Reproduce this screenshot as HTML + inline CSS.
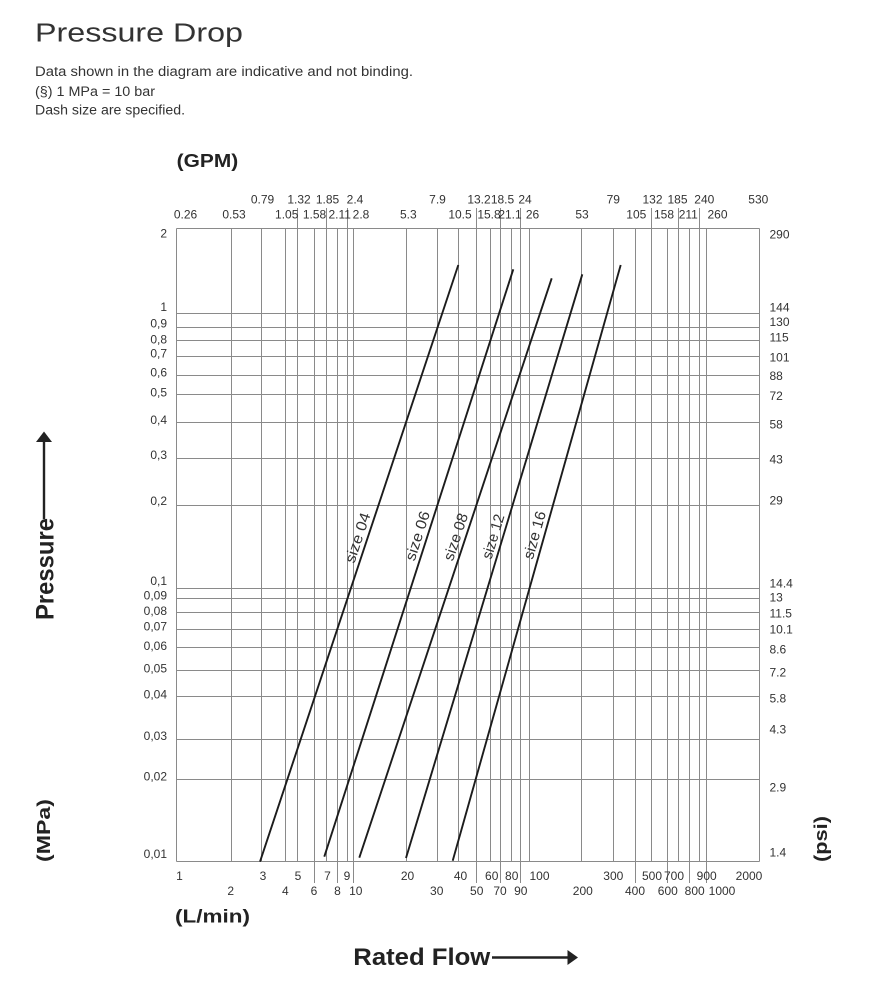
<!DOCTYPE html>
<html>
<head>
<meta charset="utf-8">
<style>
html,body{margin:0;padding:0;background:#fff;}
svg{display:block;}
text{font-family:"Liberation Sans",sans-serif;fill:#333;}
.n{font-size:12px;}
.c{text-anchor:middle;}
.r{text-anchor:end;}
.b{font-weight:bold;fill:#222;}
</style>
</head>
<body>
<svg width="881" height="991" viewBox="0 0 881 991" xmlns="http://www.w3.org/2000/svg">
<rect width="881" height="991" fill="#fff"/>

<!-- Title & notes -->
<text x="35" y="41.7" font-size="25.5" textLength="208" lengthAdjust="spacingAndGlyphs">Pressure Drop</text>
<text x="35" y="76" font-size="13.5" textLength="378" lengthAdjust="spacingAndGlyphs">Data shown in the diagram are indicative and not binding.</text>
<text x="35" y="96" font-size="13.5" textLength="120" lengthAdjust="spacingAndGlyphs">(§) 1 MPa = 10 bar</text>
<text x="35" y="114.5" font-size="13.5" textLength="150" lengthAdjust="spacingAndGlyphs">Dash size are specified.</text>

<text class="b" x="176.7" y="167" font-size="18" textLength="61.5" lengthAdjust="spacingAndGlyphs">(GPM)</text>

<!-- Grid -->
<g stroke="#8a8a8a" stroke-width="1" fill="none">
  <!-- horizontal -->
  <line x1="176.5" y1="228.5" x2="759.5" y2="228.5"/>
  <line x1="176.5" y1="313.5" x2="759.5" y2="313.5"/>
  <line x1="176.5" y1="327.5" x2="759.5" y2="327.5"/>
  <line x1="176.5" y1="340.5" x2="759.5" y2="340.5"/>
  <line x1="176.5" y1="356.5" x2="759.5" y2="356.5"/>
  <line x1="176.5" y1="375.5" x2="759.5" y2="375.5"/>
  <line x1="176.5" y1="394.5" x2="759.5" y2="394.5"/>
  <line x1="176.5" y1="422.5" x2="759.5" y2="422.5"/>
  <line x1="176.5" y1="458.5" x2="759.5" y2="458.5"/>
  <line x1="176.5" y1="505.5" x2="759.5" y2="505.5"/>
  <line x1="176.5" y1="588.5" x2="759.5" y2="588.5"/>
  <line x1="176.5" y1="598.5" x2="759.5" y2="598.5"/>
  <line x1="176.5" y1="612.5" x2="759.5" y2="612.5"/>
  <line x1="176.5" y1="629.5" x2="759.5" y2="629.5"/>
  <line x1="176.5" y1="647.5" x2="759.5" y2="647.5"/>
  <line x1="176.5" y1="670.5" x2="759.5" y2="670.5"/>
  <line x1="176.5" y1="696.5" x2="759.5" y2="696.5"/>
  <line x1="176.5" y1="739.5" x2="759.5" y2="739.5"/>
  <line x1="176.5" y1="779.5" x2="759.5" y2="779.5"/>
  <line x1="176.5" y1="861.5" x2="759.5" y2="861.5"/>
  <!-- vertical: plain -->
  <line x1="176.5" y1="228.5" x2="176.5" y2="861.5"/>
  <line x1="231.5" y1="228.5" x2="231.5" y2="861.5"/>
  <line x1="261.5" y1="228.5" x2="261.5" y2="861.5"/>
  <line x1="285.5" y1="228.5" x2="285.5" y2="861.5"/>
  <line x1="406.5" y1="228.5" x2="406.5" y2="861.5"/>
  <line x1="437.5" y1="228.5" x2="437.5" y2="861.5"/>
  <line x1="458.5" y1="228.5" x2="458.5" y2="861.5"/>
  <line x1="490.5" y1="228.5" x2="490.5" y2="861.5"/>
  <line x1="511.5" y1="228.5" x2="511.5" y2="861.5"/>
  <line x1="529.5" y1="228.5" x2="529.5" y2="861.5"/>
  <line x1="581.5" y1="228.5" x2="581.5" y2="861.5"/>
  <line x1="613.5" y1="228.5" x2="613.5" y2="861.5"/>
  <line x1="759.5" y1="228.5" x2="759.5" y2="861.5"/>
  <!-- vertical: extend up -->
  <line x1="297.5" y1="208" x2="297.5" y2="861.5"/>
  <line x1="326.5" y1="208" x2="326.5" y2="861.5"/>
  <line x1="347.5" y1="208" x2="347.5" y2="861.5"/>
  <line x1="651.5" y1="208" x2="651.5" y2="861.5"/>
  <line x1="678.5" y1="208" x2="678.5" y2="861.5"/>
  <line x1="699.5" y1="208" x2="699.5" y2="861.5"/>
  <!-- vertical: extend both -->
  <line x1="476.5" y1="208" x2="476.5" y2="883"/>
  <line x1="500.5" y1="208" x2="500.5" y2="883"/>
  <line x1="520.5" y1="208" x2="520.5" y2="883"/>
  <!-- vertical: extend down -->
  <line x1="314.5" y1="228.5" x2="314.5" y2="883"/>
  <line x1="337.5" y1="228.5" x2="337.5" y2="883"/>
  <line x1="353.5" y1="228.5" x2="353.5" y2="883"/>
  <line x1="635.5" y1="228.5" x2="635.5" y2="883"/>
  <line x1="667.5" y1="228.5" x2="667.5" y2="883"/>
  <line x1="689.5" y1="228.5" x2="689.5" y2="883"/>
  <line x1="706.5" y1="228.5" x2="706.5" y2="883"/>
</g>

<!-- Curves -->
<g stroke="#1c1c1c" stroke-width="1.9" fill="none" stroke-linecap="butt">
  <line x1="260" y1="861.7" x2="458.3" y2="265"/>
  <line x1="324.3" y1="856.7" x2="513.3" y2="269.3"/>
  <line x1="359.3" y1="857.7" x2="551.7" y2="278.3"/>
  <line x1="406" y1="858" x2="582.3" y2="274.3"/>
  <line x1="452.7" y1="860.7" x2="620.7" y2="265"/>
</g>

<!-- Size labels -->
<g font-size="15">
  <text transform="translate(354.2,564) rotate(-71.62)" textLength="52" lengthAdjust="spacingAndGlyphs">size 04</text>
  <text transform="translate(414.5,561.7) rotate(-72.16)" textLength="51" lengthAdjust="spacingAndGlyphs">size 06</text>
  <text transform="translate(452.8,561.7) rotate(-71.63)" textLength="49" lengthAdjust="spacingAndGlyphs">size 08</text>
  <text transform="translate(491.3,560) rotate(-73.19)" textLength="46" lengthAdjust="spacingAndGlyphs">size 12</text>
  <text transform="translate(532.8,560) rotate(-74.26)" textLength="49" lengthAdjust="spacingAndGlyphs">size 16</text>
</g>

<!-- Top GPM labels row 1 -->
<g class="n c">
  <text x="262.5" y="203.5">0.79</text>
  <text x="299" y="203.5">1.32</text>
  <text x="327.5" y="203.5">1.85</text>
  <text x="355" y="203.5">2.4</text>
  <text x="437.5" y="203.5">7.9</text>
  <text x="479" y="203.5">13.2</text>
  <text x="502.5" y="203.5">18.5</text>
  <text x="525" y="203.5">24</text>
  <text x="613.3" y="203.5">79</text>
  <text x="652.5" y="203.5">132</text>
  <text x="677.5" y="203.5">185</text>
  <text x="704.3" y="203.5">240</text>
  <text x="758.3" y="203.5">530</text>
</g>
<!-- Top GPM labels row 2 -->
<g class="n c">
  <text x="185.5" y="218.3">0.26</text>
  <text x="234" y="218.3">0.53</text>
  <text x="286.7" y="218.3">1.05</text>
  <text x="314.5" y="218.3">1.58</text>
  <text x="339.7" y="218.3">2.11</text>
  <text x="361" y="218.3">2.8</text>
  <text x="408.3" y="218.3">5.3</text>
  <text x="460" y="218.3">10.5</text>
  <text x="489" y="218.3">15.8</text>
  <text x="510" y="218.3">21.1</text>
  <text x="532.5" y="218.3">26</text>
  <text x="582" y="218.3">53</text>
  <text x="636.3" y="218.3">105</text>
  <text x="664" y="218.3">158</text>
  <text x="688.3" y="218.3">211</text>
  <text x="717.5" y="218.3">260</text>
</g>

<!-- Bottom L/min labels row 1 -->
<g class="n c" font-size="12.5">
  <text x="179.5" y="880">1</text>
  <text x="263" y="880">3</text>
  <text x="298" y="880">5</text>
  <text x="327.5" y="880">7</text>
  <text x="347" y="880">9</text>
  <text x="407.5" y="880">20</text>
  <text x="460.5" y="880">40</text>
  <text x="491.7" y="880">60</text>
  <text x="511.7" y="880">80</text>
  <text x="539.5" y="880">100</text>
  <text x="613.3" y="880">300</text>
  <text x="652" y="880">500</text>
  <text x="674" y="880">700</text>
  <text x="706.7" y="880">900</text>
  <text x="749" y="880">2000</text>
</g>
<!-- Bottom row 2 -->
<g class="n c" font-size="12.5">
  <text x="230.7" y="895">2</text>
  <text x="285.3" y="895">4</text>
  <text x="314" y="895">6</text>
  <text x="337.5" y="895">8</text>
  <text x="355.8" y="895">10</text>
  <text x="436.7" y="895">30</text>
  <text x="476.7" y="895">50</text>
  <text x="500" y="895">70</text>
  <text x="520.8" y="895">90</text>
  <text x="582.8" y="895">200</text>
  <text x="635" y="895">400</text>
  <text x="667.8" y="895">600</text>
  <text x="694.7" y="895">800</text>
  <text x="722" y="895">1000</text>
</g>

<!-- Left MPa labels -->
<g class="n r" font-size="12">
  <text x="167" y="237.3">2</text>
  <text x="167" y="311">1</text>
  <text x="167" y="327.7">0,9</text>
  <text x="167" y="343.3">0,8</text>
  <text x="167" y="357.7">0,7</text>
  <text x="167" y="376.7">0,6</text>
  <text x="167" y="396.7">0,5</text>
  <text x="167" y="424">0,4</text>
  <text x="167" y="459">0,3</text>
  <text x="167" y="505">0,2</text>
  <text x="167" y="585">0,1</text>
  <text x="167" y="599.3">0,09</text>
  <text x="167" y="615">0,08</text>
  <text x="167" y="630.7">0,07</text>
  <text x="167" y="650">0,06</text>
  <text x="167" y="672.3">0,05</text>
  <text x="167" y="698.3">0,04</text>
  <text x="167" y="740">0,03</text>
  <text x="167" y="780.7">0,02</text>
  <text x="167" y="858">0,01</text>
</g>

<!-- Right psi labels -->
<g class="n" font-size="12">
  <text x="769.5" y="238.3">290</text>
  <text x="769.5" y="311.7">144</text>
  <text x="769.5" y="326">130</text>
  <text x="769.5" y="341.7">115</text>
  <text x="769.5" y="361.7">101</text>
  <text x="769.5" y="380">88</text>
  <text x="769.5" y="400">72</text>
  <text x="769.5" y="428.3">58</text>
  <text x="769.5" y="463.3">43</text>
  <text x="769.5" y="504.3">29</text>
  <text x="769.5" y="587.3">14.4</text>
  <text x="769.5" y="601.7">13</text>
  <text x="769.5" y="617.3">11.5</text>
  <text x="769.5" y="633.3">10.1</text>
  <text x="769.5" y="653.3">8.6</text>
  <text x="769.5" y="676.7">7.2</text>
  <text x="769.5" y="702.7">5.8</text>
  <text x="769.5" y="733.3">4.3</text>
  <text x="769.5" y="791.7">2.9</text>
  <text x="769.5" y="856.7">1.4</text>
</g>

<!-- Axis titles -->
<text class="b" x="175" y="922.5" font-size="18.5" textLength="75" lengthAdjust="spacingAndGlyphs">(L/min)</text>
<text class="b" x="353.3" y="965" font-size="24" textLength="137" lengthAdjust="spacingAndGlyphs">Rated Flow</text>
<line x1="492" y1="957.5" x2="569" y2="957.5" stroke="#222" stroke-width="2.4"/>
<polygon points="578,957.5 567.5,950 567.5,965" fill="#222"/>

<text class="b" transform="translate(53.3,620) rotate(-90)" font-size="25" textLength="102" lengthAdjust="spacingAndGlyphs">Pressure</text>
<line x1="44" y1="519" x2="44" y2="440" stroke="#222" stroke-width="2.4"/>
<polygon points="44,431.5 36,442 52,442" fill="#222"/>

<text class="b" transform="translate(50,862) rotate(-90)" font-size="18.5" textLength="63" lengthAdjust="spacingAndGlyphs">(MPa)</text>
<text class="b" transform="translate(827,862) rotate(-90)" font-size="18.5" textLength="46" lengthAdjust="spacingAndGlyphs">(psi)</text>
</svg>
</body>
</html>
